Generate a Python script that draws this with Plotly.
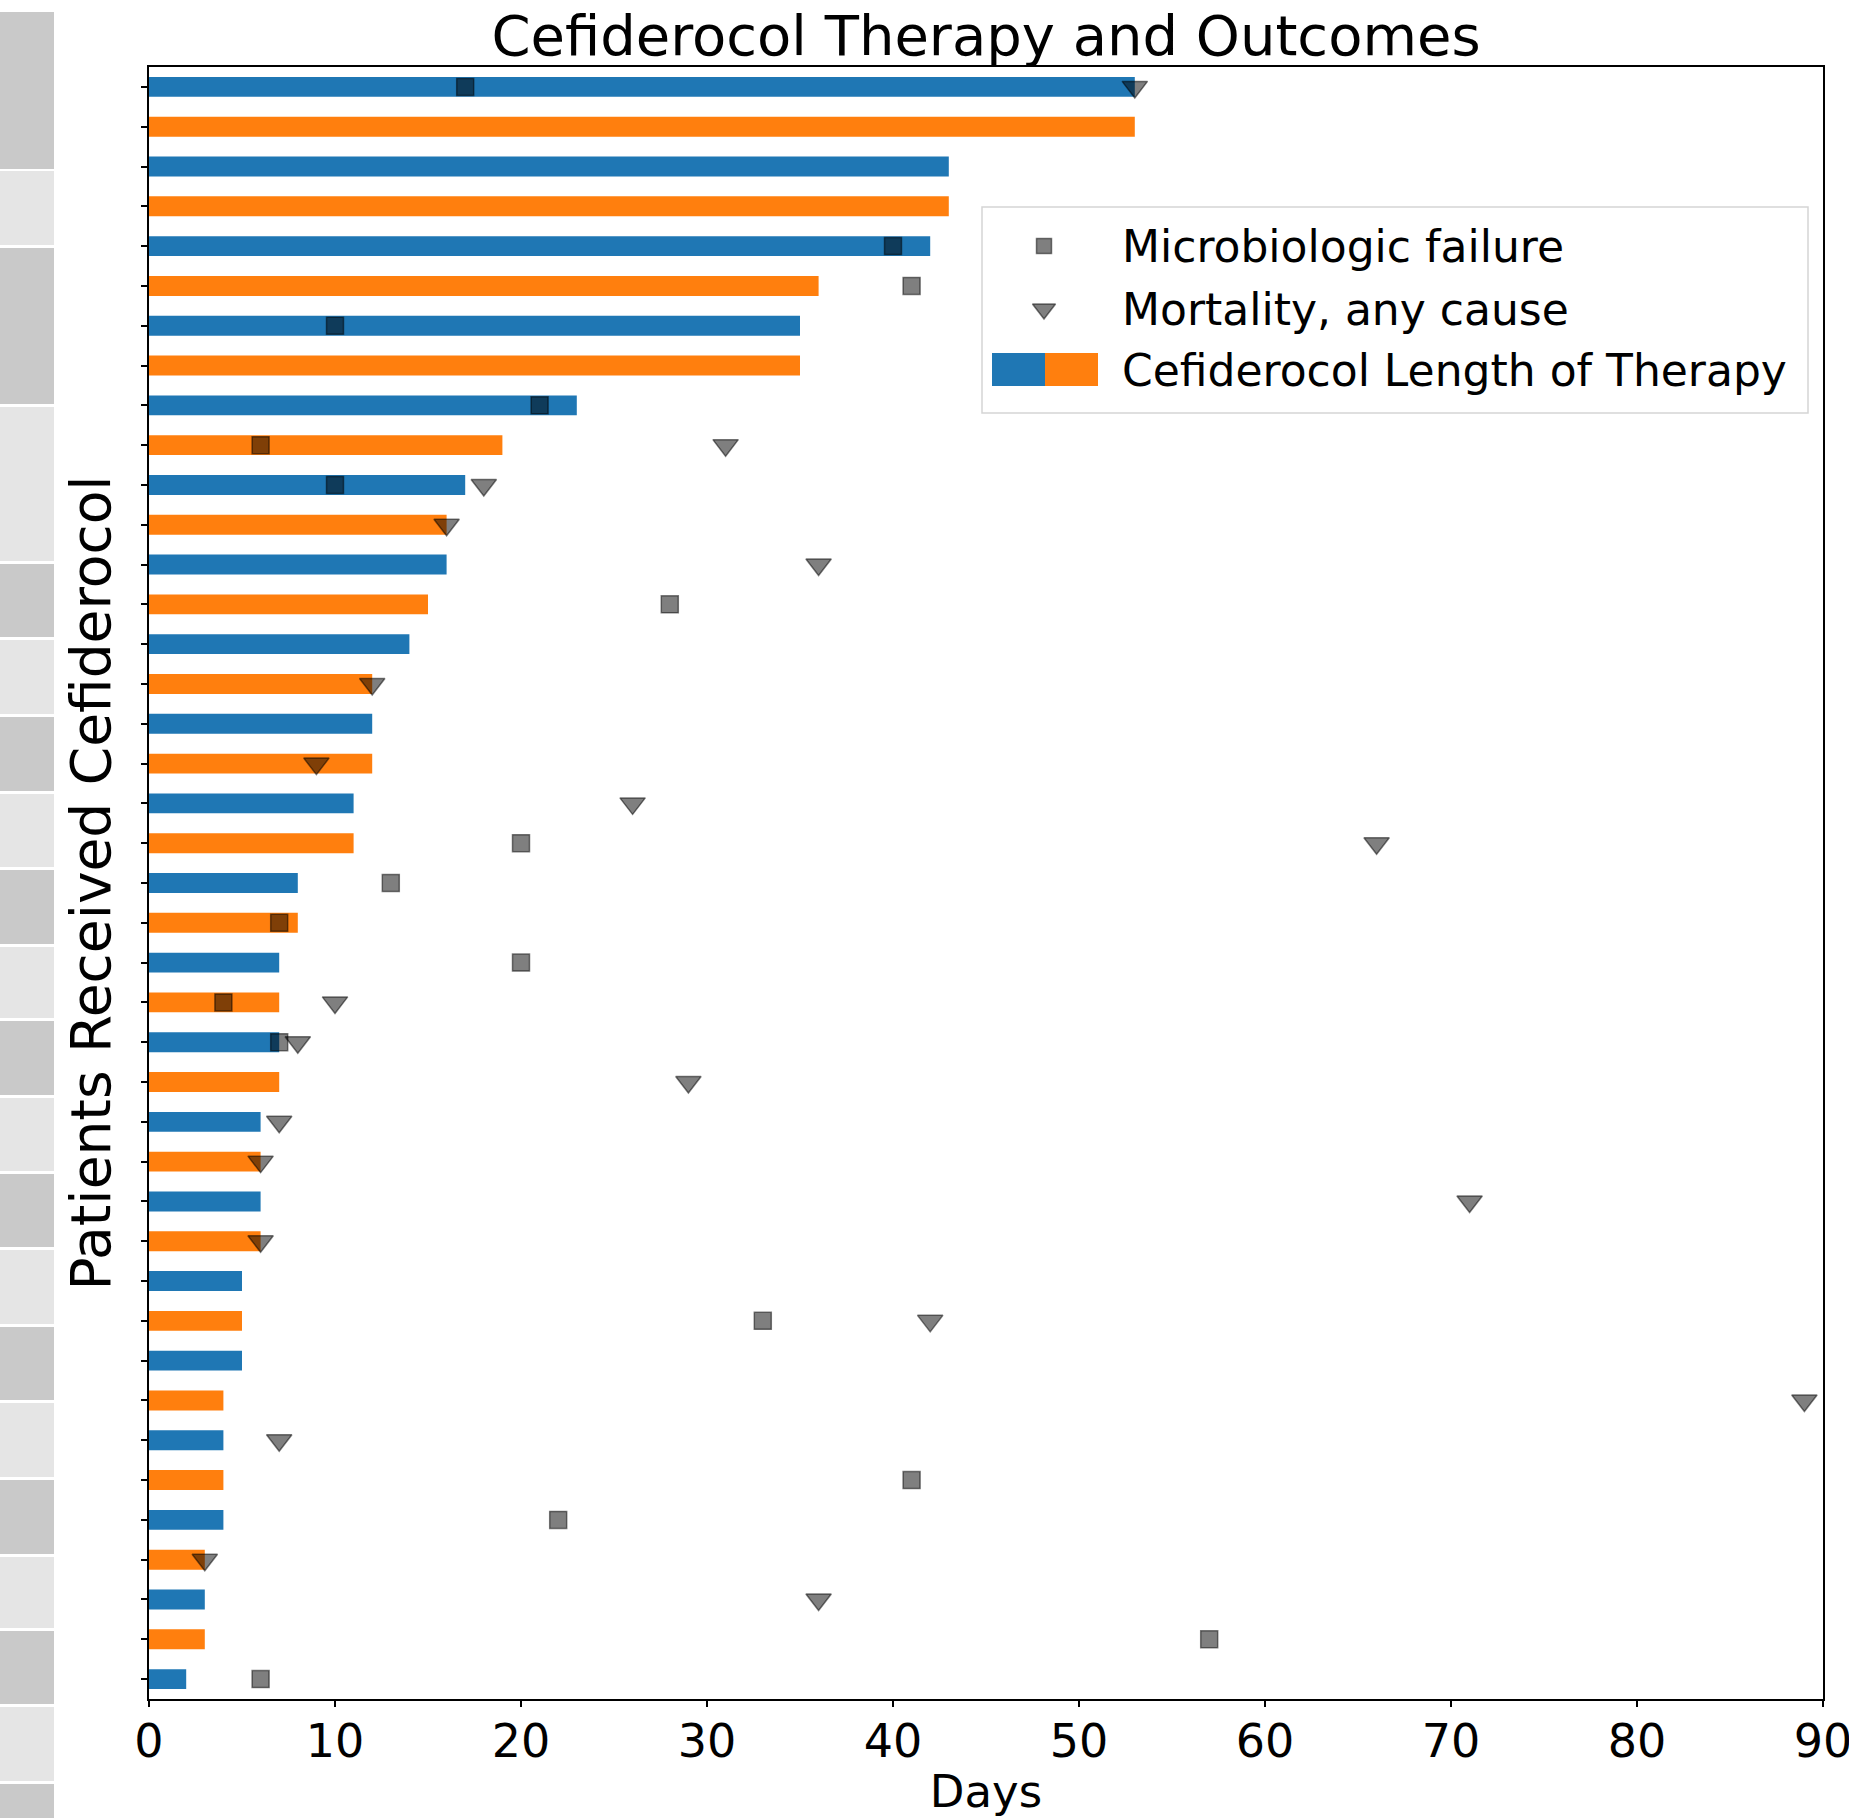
import plotly.graph_objects as go

# ---------------- data (top row first) ----------------
therapy_days = [53, 53, 43, 43, 42, 36, 35, 35, 23, 19, 17, 16, 16, 15, 14, 12, 12, 12, 11, 11,
                8, 8, 7, 7, 7, 7, 6, 6, 6, 6, 5, 5, 5, 4, 4, 4, 4, 3, 3, 3, 2]
micro_failure_days = [17, None, None, None, 40, 41, 10, None, 21, 6, 10, None, None, 28, None, None,
                      None, None, None, 20, 13, 7, 20, 4, 7, None, None, None, None, None, None, 33,
                      None, None, None, 41, 22, None, None, 57, 6]
mortality_days = [53, None, None, None, None, None, None, None, None, 31, 18, 16, 36, None, None, 12,
                  None, 9, 26, 66, None, None, None, 10, 8, 29, 7, 6, 71, 6, None, 42, None, 89, 7,
                  None, None, 3, 36, None, None]
x_ticks = [0, 10, 20, 30, 40, 50, 60, 70, 80, 90]

n = len(therapy_days)
rows = [n - 1 - i for i in range(n)]

BLUE, ORANGE = "#1f77b4", "#ff7f0e"
bar_colors = [BLUE if i % 2 == 0 else ORANGE for i in range(n)]
MARK = "rgba(0,0,0,0.5)"
FONT = "DejaVu Sans"
SQ_SIZE, TRI_SIZE = 17, 22

# ---------------- geometry helpers ----------------
W, H = 1849, 1818
ML, MR, MT, MB = 149, 26, 67, 119
PW, PH = W - ML - MR, H - MT - MB


def fx(px):
    return (px - ML) / PW


def fy(py):
    return (H - MB - py) / PH


fig = go.Figure()

fig.add_trace(go.Bar(
    x=therapy_days, y=rows, orientation="h", width=0.5,
    marker=dict(color=bar_colors, line=dict(width=0)),
    showlegend=False, hoverinfo="x"))

sq_x = [v for v in micro_failure_days if v is not None]
sq_y = [rows[i] for i, v in enumerate(micro_failure_days) if v is not None]
tr_x = [v for v in mortality_days if v is not None]
tr_y = [rows[i] for i, v in enumerate(mortality_days) if v is not None]

fig.add_trace(go.Scatter(
    x=sq_x, y=sq_y, mode="markers", showlegend=False,
    marker=dict(symbol="square", size=SQ_SIZE, color=MARK, line=dict(color=MARK, width=1.5))))
fig.add_trace(go.Scatter(
    x=tr_x, y=tr_y, mode="markers", showlegend=False,
    marker=dict(symbol="triangle-down", size=TRI_SIZE, color=MARK, line=dict(color=MARK, width=1.5))))

# ---------------- hand-drawn legend (overlay axes in plot fractions) ----------------
fig.add_trace(go.Scatter(
    x=[fx(1044)], y=[fy(246)], xaxis="x2", yaxis="y2", mode="markers", showlegend=False,
    hoverinfo="skip",
    marker=dict(symbol="square", size=SQ_SIZE - 2, color=MARK, line=dict(color=MARK, width=1.5))))
fig.add_trace(go.Scatter(
    x=[fx(1044)], y=[fy(309)], xaxis="x2", yaxis="y2", mode="markers", showlegend=False,
    hoverinfo="skip",
    marker=dict(symbol="triangle-down", size=TRI_SIZE - 2, color=MARK, line=dict(color=MARK, width=1.5))))

shapes = []
# legend box
shapes.append(dict(type="rect", xref="paper", yref="paper",
                   x0=fx(982), x1=fx(1808), y0=fy(413), y1=fy(207),
                   fillcolor="white", line=dict(color="#d5d5d5", width=1.5), layer="below"))
# two-colour patch
shapes.append(dict(type="rect", xref="paper", yref="paper",
                   x0=fx(992), x1=fx(1045), y0=fy(386), y1=fy(353),
                   fillcolor=BLUE, line=dict(width=0), layer="below"))
shapes.append(dict(type="rect", xref="paper", yref="paper",
                   x0=fx(1045), x1=fx(1098), y0=fy(386), y1=fy(353),
                   fillcolor=ORANGE, line=dict(width=0), layer="below"))

# grey strip decoration at far left
strip_blocks = [(12, 169, 0), (171, 245, 1), (248, 404, 0), (407, 561, 1), (564, 637, 0),
                (640, 714, 1), (717, 791, 0), (794, 867, 1), (870, 944, 0), (947, 1018, 1),
                (1021, 1095, 0), (1098, 1171, 1), (1174, 1247, 0), (1250, 1324, 1), (1327, 1400, 0),
                (1403, 1477, 1), (1480, 1554, 0), (1557, 1628, 1), (1631, 1704, 0), (1707, 1781, 1),
                (1784, 1818, 0)]
for top, bot, kind in strip_blocks:
    shapes.append(dict(type="rect", xref="paper", yref="paper",
                       x0=fx(0), x1=fx(54), y0=fy(bot), y1=fy(top),
                       fillcolor="#c9c9c9" if kind == 0 else "#e5e5e5",
                       line=dict(width=0), layer="below"))

annotations = []
legend_labels = [("Microbiologic failure", 246), ("Mortality, any cause", 309),
                 ("Cefiderocol Length of Therapy", 370)]
for txt, py in legend_labels:
    annotations.append(dict(text=txt, xref="paper", yref="paper", x=fx(1120), y=fy(py),
                            xanchor="left", yanchor="middle", showarrow=False,
                            font=dict(family=FONT, size=44, color="black")))

fig.update_layout(
    width=W, height=H,
    margin=dict(l=ML, r=MR, t=MT, b=MB, pad=0, autoexpand=False),
    paper_bgcolor="white", plot_bgcolor="white",
    font=dict(family=FONT, color="black"),
    title=dict(text="Cefiderocol Therapy and Outcomes", x=fx(986), xref="paper", xanchor="center",
               y=1 - 35 / H, yanchor="middle", font=dict(family=FONT, size=56, color="black")),
    xaxis=dict(range=[0, 90], tickvals=x_ticks, ticks="outside", ticklen=6, tickwidth=1.5,
               tickcolor="black", showline=True, linecolor="black", linewidth=1.5, mirror=True,
               showgrid=False, zeroline=False, tickfont=dict(family=FONT, size=46),
               ticklabeloverflow="allow", ticklabelstandoff=-5, automargin=False,
               title=dict(text="Days", font=dict(family=FONT, size=45), standoff=10)),
    yaxis=dict(range=[-0.5, 40.5], tickvals=rows, showticklabels=False, ticks="outside",
               ticklen=6, tickwidth=1.5, tickcolor="black", showline=True, linecolor="black",
               linewidth=1.5, mirror=True, showgrid=False, zeroline=False, automargin=False,
               title=dict(text="Patients Received Cefiderocol", font=dict(family=FONT, size=55),
                          standoff=13)),
    xaxis2=dict(overlaying="x", range=[0, 1], visible=False, fixedrange=True, automargin=False),
    yaxis2=dict(overlaying="y", range=[0, 1], visible=False, fixedrange=True, automargin=False),
    shapes=shapes, annotations=annotations,
    showlegend=False,
)

fig.write_html("out.html", config={"displayModeBar": False},
               post_script="document.body.style.margin='0px';document.body.style.overflow='hidden';")
